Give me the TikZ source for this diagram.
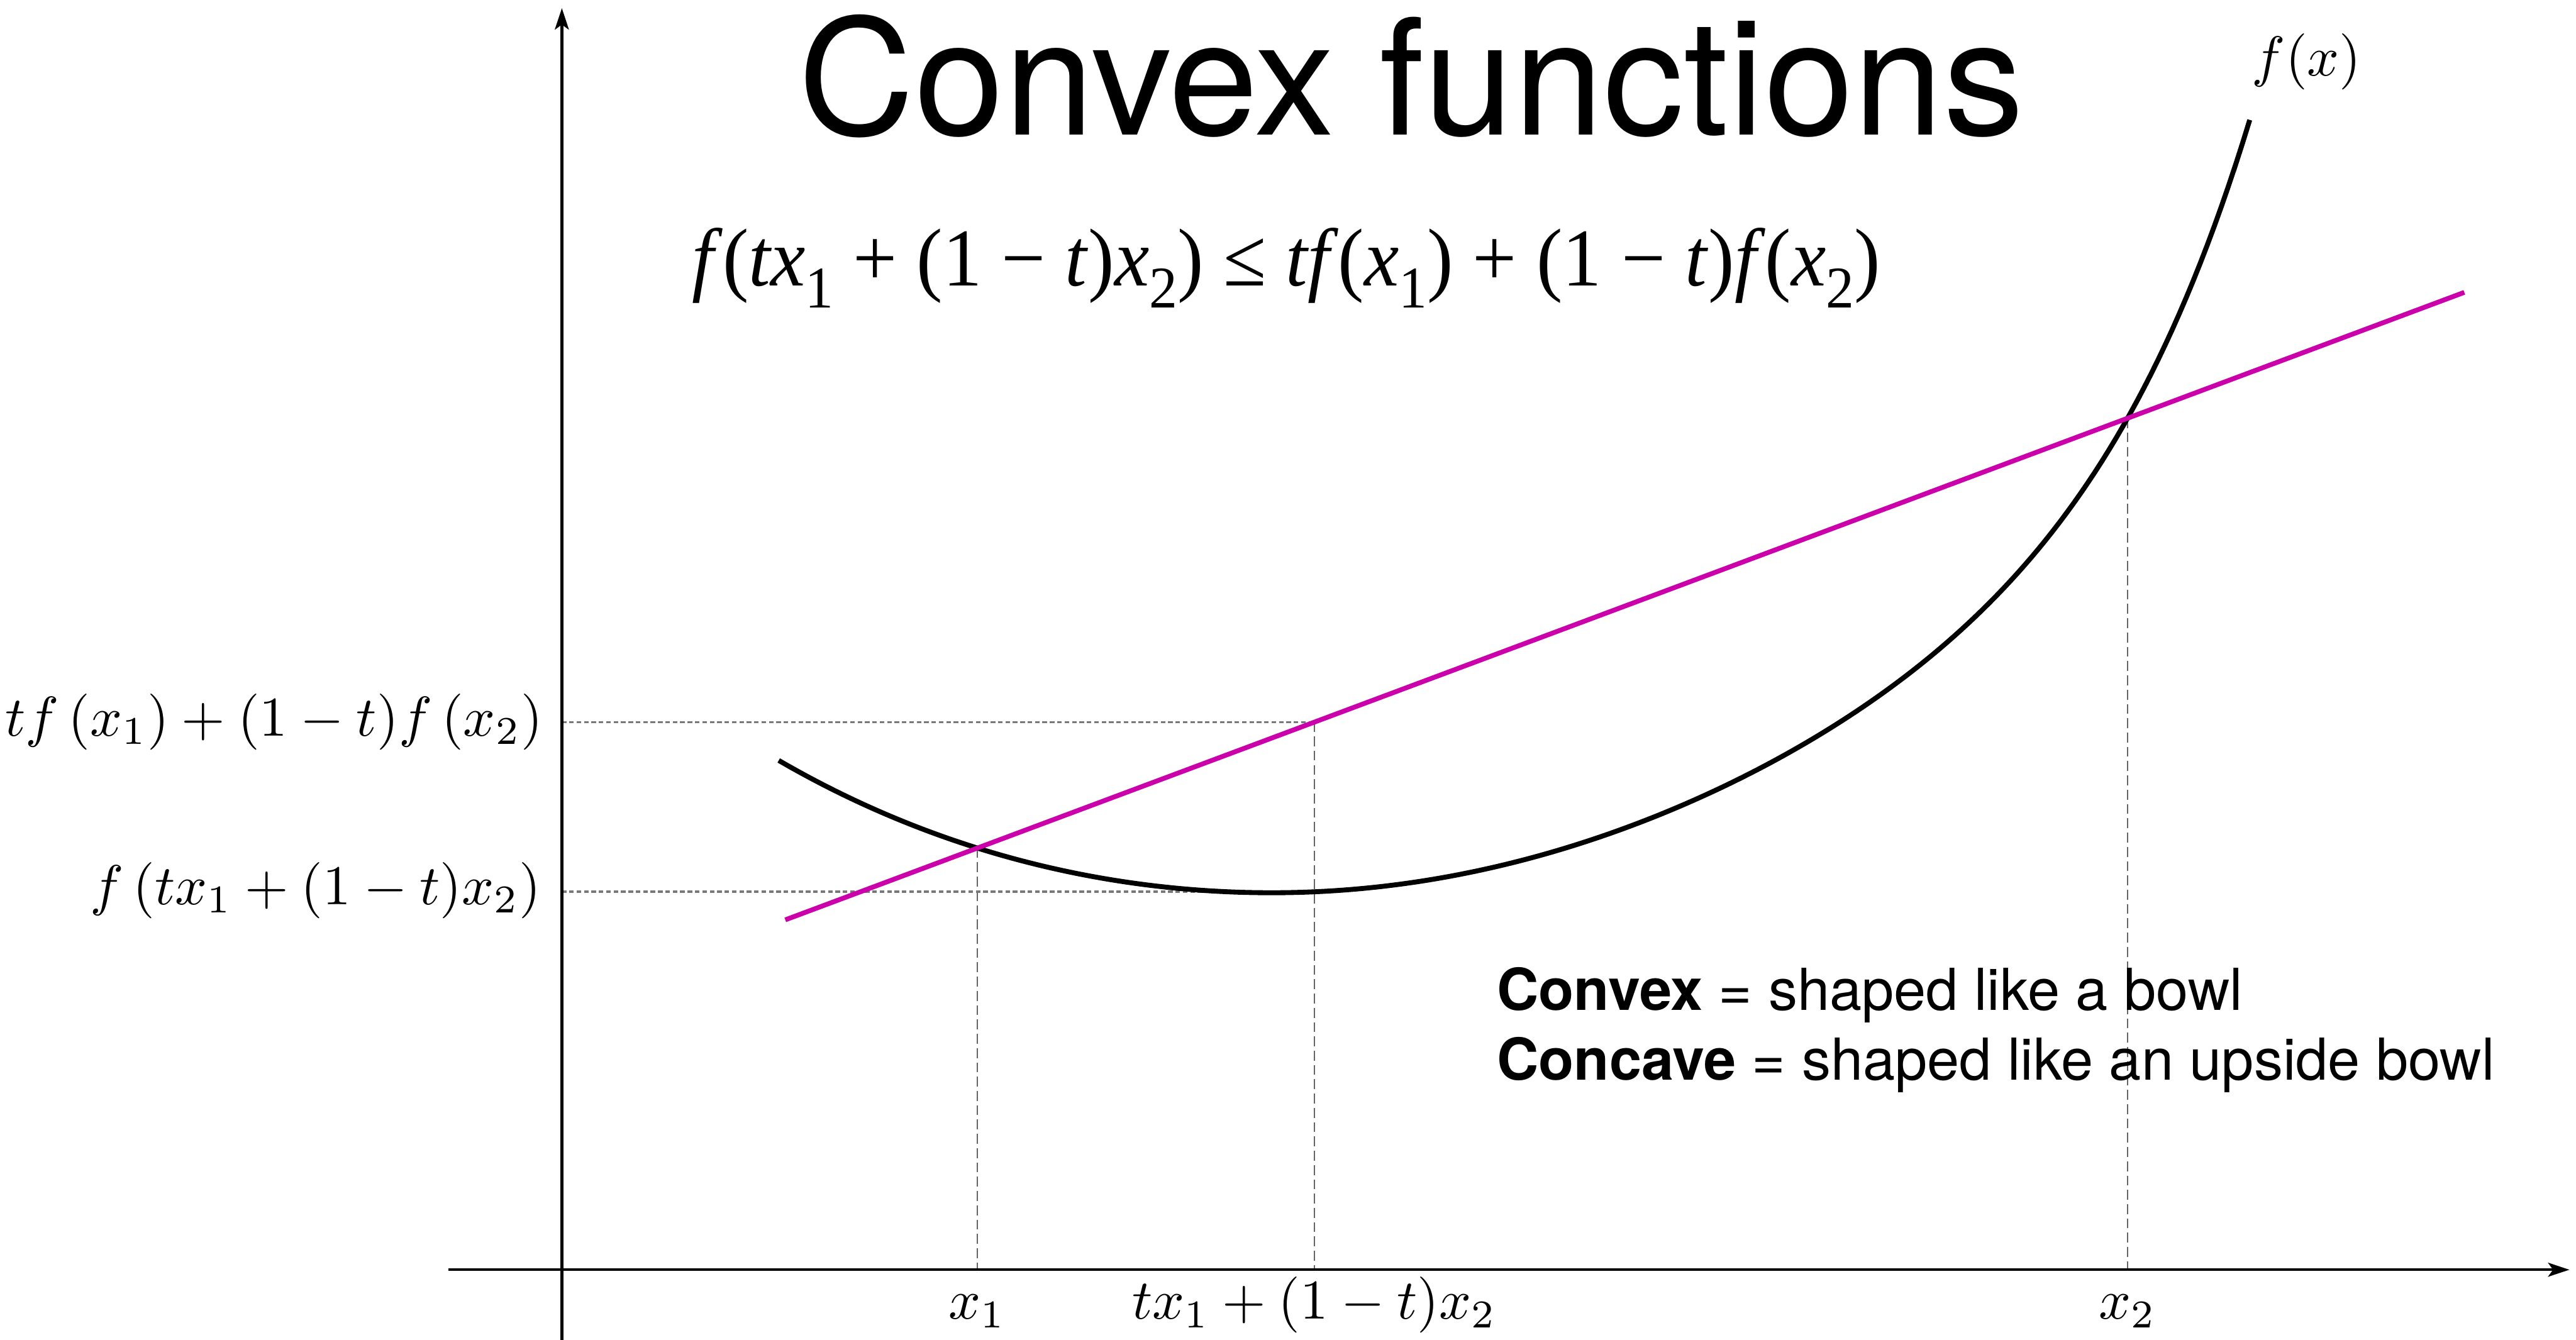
\documentclass[tikz,border=0pt]{standalone}
\usepackage{fontspec}
\usetikzlibrary{arrows.meta}
\newfontfamily\hfont{TeX Gyre Heros}
\newfontfamily\eqfont{Liberation Serif}
\definecolor{mag}{RGB}{204,0,170}
\definecolor{guide}{RGB}{100,100,100}
\definecolor{dotgray}{RGB}{120,120,120}
\newcommand\eqsub[1]{\raisebox{-0.27em}{\fontsize{36}{36}\selectfont #1}}
\begin{document}
\begin{tikzpicture}[x=1pt,y=1pt,
  axis/.style={line width=1.7pt,-{Stealth[length=13pt,width=8.5pt,inset=3pt]}},
  dashguide/.style={draw=guide,line width=0.8pt,dash pattern=on 6pt off 2.7pt},
  dotguide/.style={draw=dotgray,line width=1.3pt,dash pattern=on 2.8pt off 1.7pt},
  fcurve/.style={line width=3pt},
  chord/.style={draw=mag,line width=2.9pt},
  mlabel/.style={scale=3.42,inner sep=0pt},
  every node/.style={inner sep=0pt}]
\useasboundingbox (0,0.3) rectangle (1568,816);
% axes
\coordinate (ybot) at (342,0);
\coordinate (ytop) at (342,811);
\coordinate (xleft) at (273,43);
\coordinate (xright) at (1564,43);
% key points
\coordinate (P1) at (595,299.7);
\coordinate (PM) at (800,376.4);
\coordinate (Q) at (800,273.1);
\coordinate (P2) at (1295,561.4);
\coordinate (cA) at (478,256);
\coordinate (cB) at (1500,638);
% guides
\draw[dashguide] (P1) -- (P1 |- xleft);
\draw[dashguide] (PM) -- (PM |- xleft);
\draw[dashguide] (P2) -- (P2 |- xleft);
\draw[dotguide] (ybot |- PM) -- (PM);
\draw[dotguide] (ybot |- Q) -- (Q);
% axes
\draw[axis] (ybot) -- (ytop);
\draw[axis] (xleft) -- (xright);
% curve
\draw[fcurve] plot[domain=-1:0,samples=80,variable=\s] ({774+300*\s},{272.5+74.07*(\s)*(\s)+6.48*(\s)*(\s)*(\s)*(\s)})
  -- plot[domain=0:1,samples=140,variable=\s] ({774+596*\s},{272.5+301.9*(\s)*(\s)+170.6*(\s)*(\s)*(\s)*(\s)*(\s)*(\s)*(\s)*(\s)});
% chord
\draw[chord] (cA) -- (cB);
% labels
\node[mlabel,anchor=east] (lu) at (331,376.5) {$tf\left(x_1\right)+(1-t)f\left(x_2\right)$};
\node[mlabel,anchor=east] (ll) at (330,274) {$f\left(tx_1+(1-t)x_2\right)$};
\node[mlabel,anchor=base] (lx1) at (595,13) {$x_1$};
\node[mlabel,anchor=base] (lxm) at (800,13) {$tx_1+(1-t)x_2$};
\node[mlabel,anchor=base] (lx2) at (1295,13) {$x_2$};
\node[mlabel] (lf) at (1404,778.5) {$f(x)$};
\node[anchor=base] (title) at (859,734) {\hfont\fontsize{98}{110}\selectfont Convex functions};
\node[anchor=base west] (ineq) at (421,642) {\eqfont\fontsize{50}{56}\selectfont\scalebox{0.953}[1]{\textit{f}(\textit{tx}\eqsub{1} + (1 − \textit{t})\textit{x}\eqsub{2}) ≤ \textit{tf}(\textit{x}\eqsub{1}) + (1 − \textit{t})\textit{f}(\textit{x}\eqsub{2})}};
\node[anchor=base west] (t1) at (911,201) {\hfont\fontsize{35.2}{42}\selectfont\textbf{Convex} = shaped like a bowl};
\node[anchor=base west] (t2) at (911,158.5) {\hfont\fontsize{35.2}{42}\selectfont\textbf{Concave} = shaped like an upside bowl};
\end{tikzpicture}
\end{document}
